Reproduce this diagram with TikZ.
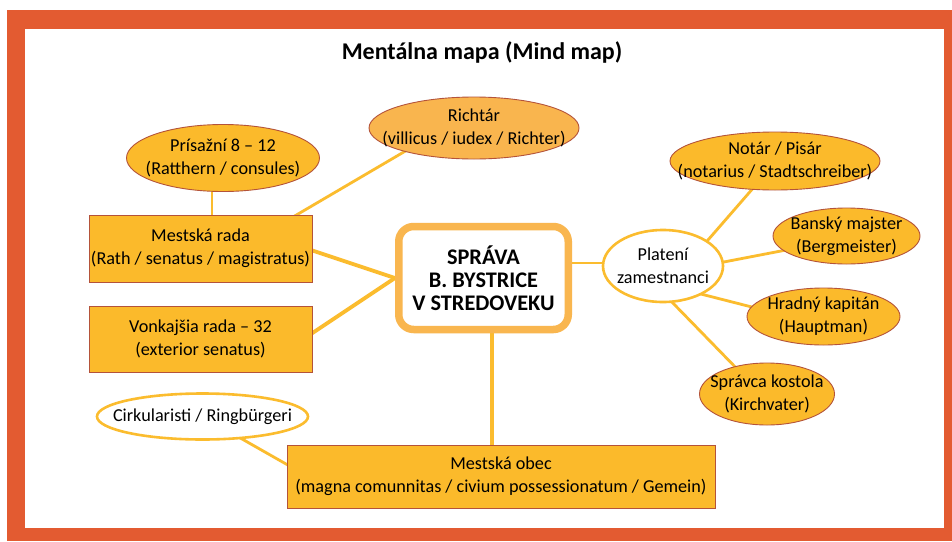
\documentclass[tikz,border=0pt]{standalone}
\usepackage{fontspec}
\setmainfont{Carlito}
\usetikzlibrary{shapes.geometric,calc}
\pgfdeclarelayer{bg}
\pgfsetlayers{bg,main}
\definecolor{frameor}{HTML}{E35B31}
\definecolor{goldfill}{HTML}{FBBA2B}
\definecolor{lightor}{HTML}{F9B54E}
\definecolor{brownline}{HTML}{B4533A}
\definecolor{linegold}{HTML}{FBBC2E}
\definecolor{centerbd}{HTML}{F9B64F}
\tikzset{
  txt/.style={font=\fontsize{18.2}{23}\selectfont, align=center, text=black},
  goldbox/.style={txt, draw=brownline, line width=1pt, fill=goldfill, inner sep=0pt},
  goldell/.style={txt, ellipse, draw=brownline, line width=0.9pt, fill=goldfill, inner xsep=-60pt, inner ysep=-25pt},
  whiteell/.style={txt, ellipse, draw=linegold, line width=2.6pt, fill=white, inner xsep=-60pt, inner ysep=-25pt},
  conn/.style={draw=linegold, line width=2.8pt},
  thickconn/.style={draw=linegold, line width=3.8pt},
}
\begin{document}
\begin{tikzpicture}[x=1pt,y=-1pt]
\useasboundingbox (0,0) rectangle (952,541);
\begin{pgfonlayer}{bg}
\fill[white] (0,0) rectangle (952,541);
\fill[frameor] (7,10) rectangle (952,541);
\fill[white] (25,29) rectangle (944,528);
\end{pgfonlayer}
\node[font=\fontsize{24}{27}\selectfont\bfseries] (title) at (482,52) {Mentálna mapa (Mind map)};

\node[draw=centerbd, line width=7.5pt, rounded corners=15pt, fill=white, minimum width=169.5pt, minimum height=103pt, font=\fontsize{22.3}{23}\selectfont\bfseries, align=center] (center) at (483.5,278) {SPRÁVA\\B. BYSTRICE\\V STREDOVEKU};
\node[goldbox, minimum width=223pt, minimum height=67pt] (rada) at (200.5,248.5) {Mestská rada\\(Rath / senatus / magistratus)};
\node[goldbox, minimum width=223pt, minimum height=66pt] (vonk) at (200.5,339) {Vonkajšia rada -- 32\\(exterior senatus)};
\node[goldbox, minimum width=428pt, minimum height=63pt] (obec) at (501,476.5) {Mestská obec\\(magna comunnitas / civium possessionatum / Gemein)};
\node[goldell, minimum width=193pt, minimum height=67pt] (pris) at (223,158) {Prísažní 8 -- 12\\(Ratthern / consules)};
\node[goldell, fill=lightor, minimum width=210pt, minimum height=62pt] (richtar) at (474,128) {Richtár\\(villicus / iudex / Richter)};
\node[whiteell, minimum width=120pt, minimum height=72pt] (plat) at (663,266) {Platení\\zamestnanci};
\node[goldell, minimum width=210pt, minimum height=58pt] (notar) at (775,161) {Notár / Pisár\\(notarius / Stadtschreiber)};
\node[goldell, minimum width=147pt, minimum height=56pt] (bansky) at (846.5,236) {Banský majster\\(Bergmeister)};
\node[goldell, minimum width=153pt, minimum height=57pt] (hrad) at (823.5,316.5) {Hradný kapitán\\(Hauptman)};
\node[goldell, minimum width=135pt, minimum height=62pt] (kostol) at (767,394) {Správca kostola\\(Kirchvater)};
\node[whiteell, minimum width=211pt, minimum height=46pt] (cirk) at (202.5,416.5) {Cirkularisti / Ringbürgeri};

\begin{pgfonlayer}{bg}
\draw[conn] ($(pris)+(-11,0)$) -- ($(rada.north)+(11.5,10)$);
\draw[conn] ($(richtar)+(-60,18)$) -- ($(rada)+(78,-23)$);
\draw[thickconn] ($(rada)+(100,-2)$) -- (center.west);
\draw[thickconn] ($(vonk)+(100,2)$) -- (center.west);
\draw[thickconn] ($(center)+(8.5,0)$) -- ($(obec)+(-9,0)$);
\draw[conn] ($(center)+(0,-15)$) -- ($(plat)+(0,-3)$);
\draw[conn] ($(plat)+(25,-3)$) -- ($(notar)+(-17,21.5)$);
\draw[conn] ($(plat)+(40,0)$) -- ($(bansky)+(-50,12)$);
\draw[conn] ($(plat)+(30,26)$) -- ($(hrad)+(-58,-6)$);
\draw[conn] ($(plat)+(5,32)$) -- ($(kostol)+(-24,-19)$);
\draw[conn] ($(cirk)+(0,0)$) -- ($(obec)+(-200,-4)$);
\end{pgfonlayer}
\end{tikzpicture}
\end{document}
